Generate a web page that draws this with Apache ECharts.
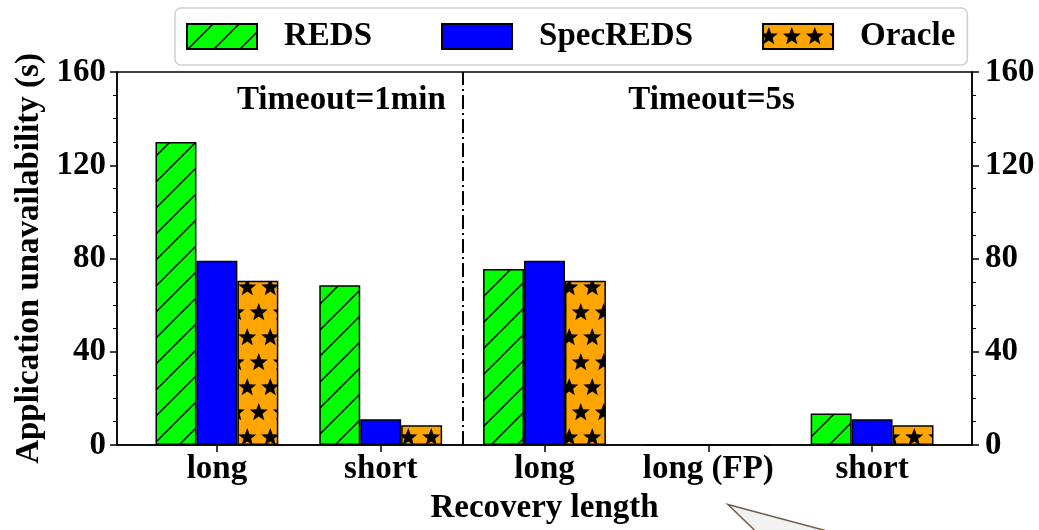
<!DOCTYPE html>
<html><head><meta charset="utf-8">
<script src="https://cdn.jsdelivr.net/npm/echarts@6/dist/echarts.min.js"></script>
<style>html,body{margin:0;padding:0;background:#fff}#c{width:1039px;height:530px}</style>
</head><body><div id="c"></div>
<script>
// ---- data ----
const categories = ['long', 'short', 'long', 'long (FP)', 'short'];
const seriesNames = ['REDS', 'SpecREDS', 'Oracle'];
const reds = [130, 68.5, 75.5, 0, 13.5];
const specReds = [79, 11, 79, 0, 11];
const oracle = [70.5, 8.5, 70.5, 0, 8.5];
const yTicks = [0, 40, 80, 120, 160];
const dividerAt = 1.5;
const panelLabels = ['Timeout=1min', 'Timeout=5s'];
const panelLabelX = [0.76, 3.02];
const panelLabelY = 148;

const FONT = '"Liberation Serif", "Times New Roman", serif';

function hatchPattern() {
  const s = 26, c = document.createElement('canvas');
  c.width = s; c.height = s;
  const g = c.getContext('2d');
  g.fillStyle = '#00ff00'; g.fillRect(0, 0, s, s);
  g.strokeStyle = '#000'; g.lineWidth = 1.5;
  g.beginPath();
  g.moveTo(-2, s + 2); g.lineTo(s + 2, -2);
  g.moveTo(-s / 2 - 2, s / 2 + 2); g.lineTo(s / 2 + 2, -s / 2 - 2);
  g.moveTo(s / 2 - 2, s * 1.5 + 2); g.lineTo(s * 1.5 + 2, s / 2 - 2);
  g.stroke();
  return c;
}
function starPath(g, cx, cy, R, r) {
  g.moveTo(cx, cy - R);
  for (let i = 1; i < 10; i++) {
    const a = -Math.PI / 2 + i * Math.PI / 5;
    const rr = i % 2 ? r : R;
    g.lineTo(cx + rr * Math.cos(a), cy + rr * Math.sin(a));
  }
  g.closePath();
}
function starPattern() {
  const w = 23, h = 50, c = document.createElement('canvas');
  c.width = w; c.height = h;
  const g = c.getContext('2d');
  g.fillStyle = '#ffa500'; g.fillRect(0, 0, w, h);
  g.fillStyle = '#000';
  g.beginPath();
  const pts = [[w * 0.25, h * 0.25], [w * 0.75, h * 0.75]];
  for (const [x, y] of pts) {
    for (const dx of [-w, 0, w]) for (const dy of [-h, 0, h]) starPath(g, x + dx, y + dy, 9.5, 4);
  }
  g.fill();
  return c;
}

const chart = echarts.init(document.getElementById('c'), null, {renderer: 'canvas'});
const txt = {fontFamily: FONT, fontWeight: 'bold', fontSize: 33, color: '#000'};
const idx = categories.map((_, i) => i);

const yBase = {
  type: 'value', min: yTicks[0], max: yTicks[yTicks.length - 1], interval: yTicks[1] - yTicks[0],
  axisLine: {show: true, onZero: false, lineStyle: {color: '#000', width: 1.5}},
  axisTick: {show: true, length: 7, lineStyle: {color: '#000', width: 1.5}},
  minorTick: {show: true, splitNumber: 4, length: 4, lineStyle: {color: '#000', width: 1}},
  splitLine: {show: false}
};

function barSeries(name, vals, color) {
  return {
    name, type: 'bar', data: vals.map((v, i) => [i, v]),
    barWidth: '25%', barGap: '0%',
    itemStyle: {color, borderColor: '#000', borderWidth: 1.5},
    emphasis: {disabled: true}
  };
}
const s1 = barSeries(seriesNames[1], specReds, '#0000ff');
s1.markLine = {
  silent: true, symbol: ['none', 'none'], label: {show: false},
  lineStyle: {color: '#000', width: 2, type: [14, 4, 2, 4]},
  data: [{xAxis: dividerAt}]
};

const option = {
  animation: false,
  backgroundColor: '#fff',
  grid: {left: 117, right: 67, top: 72, bottom: 84, show: true, borderColor: '#000', borderWidth: 1.5},
  legend: {
    data: seriesNames, top: 8, left: 175,
    icon: 'rect', itemWidth: 70, itemHeight: 25, itemGap: 69,
    textStyle: Object.assign({}, txt, {padding: [0, 0, 0, 22]}),
    backgroundColor: '#fff', borderColor: '#cfcfcf', borderWidth: 1.5, borderRadius: 6,
    padding: [12, 12, 12, 11]
  },
  xAxis: {
    type: 'value', min: -0.61, max: 4.61,
    axisLine: {show: true, onZero: false, lineStyle: {color: '#000', width: 1.5}},
    axisTick: {show: true, customValues: idx, length: 7, lineStyle: {color: '#000', width: 1.5}},
    axisLabel: Object.assign({customValues: idx, margin: 8, formatter: v => categories[Math.round(v)]}, txt),
    splitLine: {show: false},
    name: 'Recovery length', nameLocation: 'middle', nameGap: 47,
    nameTextStyle: txt
  },
  yAxis: [
    Object.assign({}, yBase, {
      position: 'left',
      axisLabel: Object.assign({margin: 11}, txt),
      name: 'Application unavailability (s)', nameLocation: 'middle', nameGap: 70,
      nameTextStyle: txt
    }),
    Object.assign({}, yBase, {
      position: 'right',
      axisLabel: Object.assign({margin: 13}, txt)
    })
  ],
  series: [
    barSeries(seriesNames[0], reds, {image: hatchPattern(), repeat: 'repeat'}),
    s1,
    barSeries(seriesNames[2], oracle, {image: starPattern(), repeat: 'repeat'})
  ]
};
chart.setOption(option);

const gfx = panelLabels.map((t, k) => {
  const p = chart.convertToPixel({gridIndex: 0}, [panelLabelX[k], panelLabelY]);
  return {
    type: 'text', x: p[0], y: p[1], silent: true,
    style: {text: t, fill: '#000', font: 'bold 33px ' + FONT, align: 'center', verticalAlign: 'middle'}
  };
});
const tip = chart.convertToPixel({gridIndex: 0}, [3.12, -25.5]);
gfx.push({
  type: 'polygon', silent: true, z: 10,
  shape: {points: [[tip[0], tip[1]], [tip[0] + 31, tip[1] + 30], [tip[0] + 112, tip[1] + 30]]},
  style: {fill: '#f2f2f2', stroke: '#6e5e48', lineWidth: 1.5}
});
chart.setOption({graphic: gfx});
</script>
</body></html>
